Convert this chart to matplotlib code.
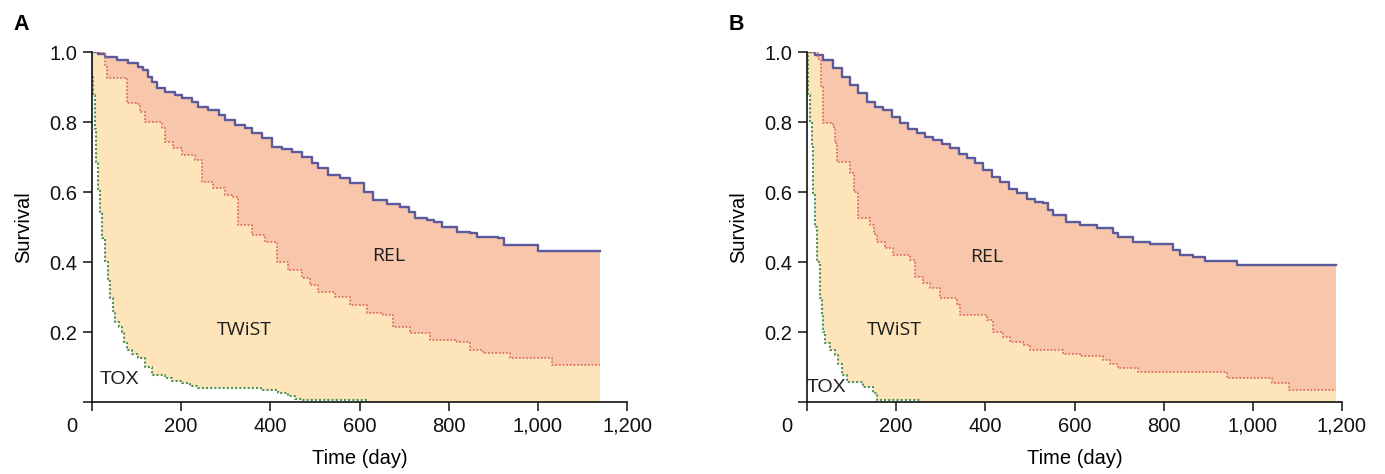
import numpy as np
import matplotlib
matplotlib.use("Agg")
import matplotlib.pyplot as plt

plt.rcParams["font.family"] = ["Liberation Sans", "DejaVu Sans"]

# Panel A: (time, survival) step points
a_rel_t = [0, 14, 29, 55, 81, 104, 115, 126, 134, 145, 164, 186, 201, 224, 238, 261, 284, 298,
           321, 343, 358, 381, 403, 426, 448, 470, 493, 508, 530, 556, 579, 609, 631, 661, 691,
           710, 724, 751, 766, 784, 818, 848, 863, 911, 923, 1000, 1139]
a_rel_v = [1.0, 0.993, 0.987, 0.977, 0.968, 0.958, 0.949, 0.929, 0.915, 0.898, 0.887, 0.877,
           0.868, 0.858, 0.844, 0.834, 0.820, 0.806, 0.791, 0.782, 0.768, 0.753, 0.729, 0.723,
           0.715, 0.701, 0.682, 0.668, 0.649, 0.639, 0.625, 0.601, 0.577, 0.566, 0.558, 0.544,
           0.525, 0.520, 0.515, 0.499, 0.487, 0.482, 0.471, 0.468, 0.449, 0.431, 0.431]
a_twist_t = [0, 29, 34, 78, 100, 108, 119, 156, 164, 182, 201, 231, 246, 272, 298, 313, 328,
             358, 388, 414, 440, 470, 489, 508, 545, 579, 616, 653, 676, 713, 758, 818, 848,
             878, 938, 1031, 1139]
a_twist_v = [1.0, 0.963, 0.925, 0.853, 0.851, 0.829, 0.801, 0.782, 0.744, 0.725, 0.706, 0.691,
             0.629, 0.611, 0.591, 0.587, 0.506, 0.477, 0.458, 0.401, 0.376, 0.353, 0.333, 0.315,
             0.299, 0.277, 0.253, 0.249, 0.215, 0.196, 0.177, 0.172, 0.149, 0.139, 0.125,
             0.106, 0.106]
a_tox_t = [0, 1, 3, 6, 10, 14, 18, 23, 29, 35, 41, 46, 52, 60, 67, 72, 78, 90, 104, 118, 134,
           164, 180, 201, 220, 238, 380, 418, 440, 456, 470, 620]
a_tox_v = [1.0, 0.93, 0.877, 0.78, 0.687, 0.61, 0.544, 0.47, 0.401, 0.345, 0.296, 0.26, 0.229,
           0.215, 0.201, 0.17, 0.149, 0.137, 0.125, 0.10, 0.077, 0.068, 0.06, 0.053, 0.045,
           0.039, 0.034, 0.025, 0.018, 0.010, 0.005, 0.0]

# Panel B
b_rel_t = [0, 18, 37, 59, 78, 96, 115, 134, 153, 171, 190, 209, 227, 246, 265, 283, 302, 321,
           340, 358, 377, 395, 414, 433, 452, 470, 493, 511, 530, 541, 552, 582, 612, 650, 687,
           698, 732, 769, 822, 837, 866, 893, 964, 1187]
b_rel_v = [1.0, 0.991, 0.977, 0.953, 0.930, 0.906, 0.882, 0.858, 0.844, 0.834, 0.815, 0.796,
           0.780, 0.768, 0.758, 0.749, 0.736, 0.725, 0.710, 0.696, 0.682, 0.663, 0.644, 0.629,
           0.610, 0.596, 0.580, 0.572, 0.568, 0.549, 0.534, 0.515, 0.506, 0.496, 0.482, 0.471,
           0.458, 0.451, 0.434, 0.420, 0.413, 0.404, 0.391, 0.391]
b_twist_t = [0, 25, 31, 37, 59, 63, 67, 96, 105, 115, 141, 150, 156, 175, 194, 231, 242, 260,
             276, 298, 336, 343, 403, 418, 440, 455, 485, 500, 575, 612, 663, 680, 698, 743,
             941, 1042, 1080, 1187]
b_twist_v = [1.0, 0.98, 0.90, 0.796, 0.787, 0.74, 0.687, 0.653, 0.60, 0.525, 0.506, 0.48,
             0.458, 0.44, 0.42, 0.406, 0.358, 0.34, 0.325, 0.296, 0.277, 0.249, 0.234, 0.201,
             0.185, 0.172, 0.163, 0.149, 0.137, 0.132, 0.12, 0.108, 0.096, 0.087, 0.070, 0.053,
             0.034, 0.034]
b_tox_t = [0, 2, 3, 7, 10.5, 14, 18, 22, 29, 33, 37, 40, 52, 63, 70, 78, 89, 126, 148, 156, 253]
b_tox_v = [1.0, 0.93, 0.877, 0.80, 0.734, 0.591, 0.50, 0.401, 0.296, 0.25, 0.201, 0.168, 0.15,
           0.134, 0.11, 0.077, 0.058, 0.044, 0.025, 0.006, 0.0]

y_ticks = [0, 0.2, 0.4, 0.6, 0.8, 1.0]
y_labels = ["", "0.2", "0.4", "0.6", "0.8", "1.0"]
x_ticks = [0, 200, 400, 600, 800, 1000, 1200]
x_labels = ["", "200", "400", "600", "800", "1,000", "1,200"]

C_REL = "#5a5a9c"
C_TWIST = "#df7266"
C_TOX = "#4f9155"
F_REL = "#f7c6ab"
F_TWIST = "#fde5b9"


def step_at(t, v, grid):
    t = np.asarray(t, float)
    v = np.asarray(v, float)
    idx = np.searchsorted(t, grid, side="right") - 1
    return v[np.clip(idx, 0, len(v) - 1)]


def draw_panel(ax, rel, twist, tox, letter, lab_pos):
    end = rel[0][-1]
    grid = np.unique(np.concatenate([rel[0], twist[0], tox[0]]))
    grid = grid[grid <= end]
    r = step_at(*rel, grid)
    w = step_at(*twist, grid)
    x = step_at(*tox, grid)
    ax.fill_between(grid, w, r, step="post", color=F_REL, lw=0)
    ax.fill_between(grid, x, w, step="post", color=F_TWIST, lw=0)

    ax.plot(rel[0], rel[1], drawstyle="steps-post", color=C_REL, lw=1.7)
    ax.plot(twist[0], twist[1], drawstyle="steps-post", color=C_TWIST, lw=1.3,
            ls=(0, (1, 1)))
    ax.plot(tox[0], tox[1], drawstyle="steps-post", color=C_TOX, lw=1.5,
            ls=(0, (1, 1)))

    (rx, ry), (wx, wy), (tx, ty) = lab_pos
    ax.text(rx, ry, "REL", fontsize=14, family=["Open Sans", "DejaVu Sans"],
            ha="center", va="center", color="#1e1e1e")
    ax.text(wx, wy, "TWiST", fontsize=14, family=["Open Sans", "DejaVu Sans"],
            ha="center", va="center", color="#1e1e1e")
    ax.text(tx, ty, "TOX", fontsize=14, family=["Liberation Sans Narrow", "Liberation Sans"],
            ha="center", va="center", color="#1e1e1e")

    ax.set_xlim(0, 1200)
    ax.set_ylim(0, 1.0)
    ax.set_xticks(x_ticks)
    ax.set_xticklabels(x_labels)
    ax.set_yticks(y_ticks)
    ax.set_yticklabels(y_labels)
    ax.tick_params(direction="out", length=6.5, width=1.1, labelsize=14.5, pad=4,
                   colors="#111111")
    for s in ["top", "right"]:
        ax.spines[s].set_visible(False)
    for s in ["left", "bottom"]:
        ax.spines[s].set_linewidth(1.2)
        ax.spines[s].set_color("#111111")
    ax.annotate("0", xy=(0, 0), xycoords="data", xytext=(-15, -24),
                textcoords="offset pixels", ha="right", va="center", fontsize=14.5,
                color="#111111", annotation_clip=False)
    ax.set_xlabel("Time (day)", fontsize=14.5, labelpad=10)
    ax.set_ylabel("Survival", fontsize=14.5, labelpad=12)
    ax.text(-0.147, 1.08, letter, transform=ax.transAxes, fontsize=15.5, fontweight="bold",
            ha="left", va="center")


fig = plt.figure(figsize=(13.85, 4.74), dpi=100)
axA = fig.add_axes([92 / 1385, 72 / 474, 535 / 1385, 350 / 474])
axB = fig.add_axes([807 / 1385, 72 / 474, 535 / 1385, 350 / 474])

draw_panel(axA, (a_rel_t, a_rel_v), (a_twist_t, a_twist_v), (a_tox_t, a_tox_v), "A",
           [(666, 0.417), (341, 0.206), (61, 0.063)])
draw_panel(axB, (b_rel_t, b_rel_v), (b_twist_t, b_twist_v), (b_tox_t, b_tox_v), "B",
           [(404, 0.414), (197, 0.206), (43, 0.04)])

fig.savefig("out.png", dpi=100)
